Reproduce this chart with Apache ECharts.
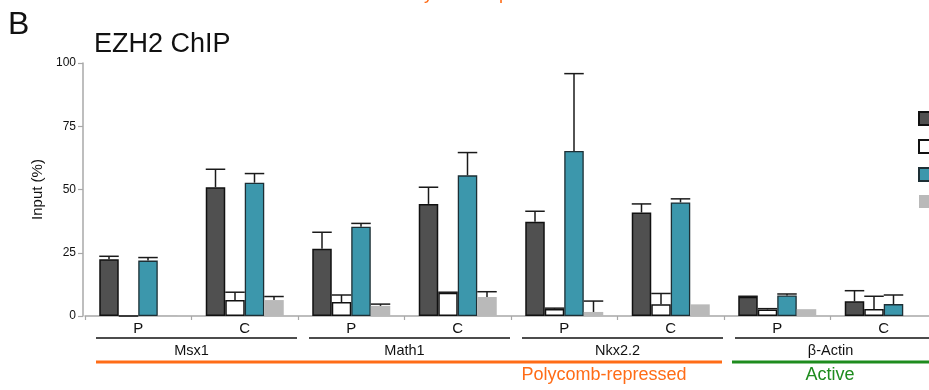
<!DOCTYPE html>
<html>
<head>
<meta charset="utf-8">
<script src="https://cdn.jsdelivr.net/npm/echarts@6/dist/echarts.min.js"></script>
<style>
  html, body { margin: 0; padding: 0; background: #fff; }
  #chart { width: 929px; height: 390px; }
</style>
</head>
<body>
<div id="chart"></div>
<script>
// Promoter regions: each gene has a P and a C sample
const categories = ['P', 'C', 'P', 'C', 'P', 'C', 'P', 'C'];
const genes = ['Msx1', 'Math1', 'Nkx2.2', 'β-Actin'];
const geneClasses = ['Polycomb-repressed', 'Active'];
const yTicks = [0, 25, 50, 75, 100];

const seriesNames = ['Group 1', 'Group 2', 'Group 3', 'Group 4'];

// EZH2 enrichment (% of input), mean and upper error
const darkVals  = [22.4, 50.9, 26.6, 44.3, 37.3, 40.9, 7.6, 5.8];
const darkErr   = [1.2, 7.1, 6.5, 6.6, 4.1, 3.4, 0.2, 4.2];
const whiteVals = [0, 6.3, 5.5, 9.2, 2.8, 4.6, 2.6, 2.8];
const whiteErr  = [0, 3.1, 2.8, 0.2, 0.3, 4.3, 0.3, 5.0];
const tealVals  = [21.9, 52.7, 35.3, 55.6, 65.2, 44.9, 8.1, 4.7];
const tealErr   = [1.2, 3.6, 1.3, 9.0, 30.6, 1.4, 0.6, 3.6];
const grayVals  = [0.3, 6.3, 4.0, 7.5, 1.6, 4.6, 2.7, 0];
const grayErr   = [0, 1.4, 0.7, 2.1, 4.3, 0, 0, 0];

const FONT = 'Liberation Sans, Arial, Helvetica, sans-serif';
const BAR_W = 19.5;
const ORANGE = '#ff6c17';
const GREEN = '#1e8c1e';

const barStyles = [
  { color: '#505050', borderColor: '#111', borderWidth: 1.5 },
  { color: '#ffffff', borderColor: '#111', borderWidth: 1.5 },
  { color: '#3c97ac', borderColor: '#1d2f35', borderWidth: 1.3 },
  { color: '#b9b9b9', borderWidth: 0 }
];
const valueSets = [darkVals, whiteVals, tealVals, grayVals];
const errSets = [darkErr, whiteErr, tealErr, grayErr];

const chart = echarts.init(document.getElementById('chart'), null, { renderer: 'canvas' });

function errorBarSeries(k) {
  return {
    type: 'custom',
    z: 5,
    silent: true,
    data: valueSets[k].map((v, i) => [i, v, errSets[k][i]]),
    encode: { x: 0, y: 1 },
    renderItem: function (params, api) {
      const i = api.value(0), v = api.value(1), e = api.value(2);
      if (e <= 0) return null;
      const base = api.coord([i, v]);
      const top = api.coord([i, v + e]);
      const x = base[0] + (k - 1.5) * BAR_W;
      const st = { stroke: '#1a1a1a', lineWidth: 1.5 };
      return {
        type: 'group',
        children: [
          { type: 'line', shape: { x1: x, y1: base[1], x2: x, y2: top[1] }, style: st },
          { type: 'line', shape: { x1: x - BAR_W / 2, y1: top[1], x2: x + BAR_W / 2, y2: top[1] }, style: st }
        ]
      };
    }
  };
}

const barSeries = seriesNames.map((name, k) => ({
  name: name,
  type: 'bar',
  data: valueSets[k],
  barWidth: BAR_W,
  barGap: '0%',
  itemStyle: barStyles[k],
  emphasis: { disabled: true },
  z: 2
}));

chart.setOption({
  animation: false,
  backgroundColor: '#fff',
  textStyle: { fontFamily: FONT },
  title: [
    { text: 'B', left: 8, top: 9, padding: 0,
      textStyle: { fontFamily: FONT, fontSize: 32, fontWeight: 'normal', color: '#111' } },
    { text: 'EZH2 ChIP', left: 94, top: 31, padding: 0,
      textStyle: { fontFamily: FONT, fontSize: 27, fontWeight: 'normal', color: '#111' } }
  ],
  legend: {
    orient: 'vertical',
    left: 918,
    top: 111,
    padding: 0,
    itemWidth: 14,
    itemHeight: 13,
    itemGap: 13,
    icon: 'rect',
    data: seriesNames,
    textStyle: { fontFamily: FONT, fontSize: 12, lineHeight: 13, color: '#111' },
    selectedMode: false
  },
  grid: { left: 85, top: 63, width: 852, height: 253, outerBoundsMode: 'none', containLabel: false },
  xAxis: {
    type: 'category',
    data: categories,
    axisLine: { lineStyle: { color: '#a8a8a8', width: 1.5 } },
    axisTick: { show: true, length: 4, lineStyle: { color: '#a8a8a8', width: 1.2 } },
    axisLabel: { fontFamily: FONT, fontSize: 15, color: '#111', margin: 5 }
  },
  yAxis: {
    type: 'value',
    min: 0,
    max: 100,
    interval: 25,
    offset: 2,
    name: 'Input (%)',
    nameLocation: 'middle',
    nameGap: 33,
    nameRotate: 90,
    nameTextStyle: { fontFamily: FONT, fontSize: 15, color: '#111' },
    axisLine: { show: true, lineStyle: { color: '#a8a8a8', width: 1.5 } },
    axisTick: { show: true, length: 5, lineStyle: { color: '#a8a8a8', width: 1.2 } },
    axisLabel: {
      fontFamily: FONT, fontSize: 12, color: '#111', margin: 7,
      formatter: v => (yTicks.indexOf(v) >= 0 ? String(v) : '')
    },
    splitLine: { show: false }
  },
  series: barSeries.concat([0, 1, 2, 3].map(errorBarSeries))
});

// Gene brackets, gene names and regulatory class bands below the axis
function xPix(i) { return chart.convertToPixel({ xAxisIndex: 0 }, i); }
const catW = xPix(1) - xPix(0);
const graphics = [];
genes.forEach((g, gi) => {
  const i0 = gi * 2, i1 = gi * 2 + 1;
  const x0 = xPix(i0) - catW / 2 + 11;
  const x1 = xPix(i1) + catW / 2 - 1;
  graphics.push({
    type: 'line', silent: true,
    shape: { x1: x0, y1: 338, x2: x1, y2: 338 },
    style: { stroke: '#111', lineWidth: 1.5 }
  });
  graphics.push({
    type: 'text', silent: true,
    x: (xPix(i0) + xPix(i1)) / 2, y: 351,
    style: { text: g, font: '14.5px ' + FONT, fill: '#111', align: 'center', verticalAlign: 'middle' }
  });
});
// class bands: first three genes repressed, last one active
const repLeft = xPix(0) - catW / 2 + 11, repRight = xPix(5) + catW / 2 - 2;
const actLeft = xPix(6) - catW / 2 + 8, actRight = xPix(7) + catW / 2;
graphics.push(
  { type: 'line', silent: true, shape: { x1: repLeft, y1: 362, x2: repRight, y2: 362 },
    style: { stroke: ORANGE, lineWidth: 3 } },
  { type: 'line', silent: true, shape: { x1: actLeft, y1: 362, x2: actRight, y2: 362 },
    style: { stroke: GREEN, lineWidth: 3 } },
  { type: 'text', silent: true, x: 604, y: 375,
    style: { text: geneClasses[0], font: '18px ' + FONT, fill: ORANGE, align: 'center', verticalAlign: 'middle' } },
  { type: 'text', silent: true, x: 830, y: 375,
    style: { text: geneClasses[1], font: '18px ' + FONT, fill: GREEN, align: 'center', verticalAlign: 'middle' } },
  // class labels of the panel above, cut by the top edge
  { type: 'text', silent: true, x: 398, y: 3,
    style: { text: geneClasses[0], font: '18px ' + FONT, fill: ORANGE, align: 'left', verticalAlign: 'bottom' } },
  { type: 'text', silent: true, x: 886, y: 3,
    style: { text: geneClasses[1], font: '18px ' + FONT, fill: GREEN, align: 'left', verticalAlign: 'bottom' } }
);
chart.setOption({ graphic: graphics });
</script>
</body>
</html>
